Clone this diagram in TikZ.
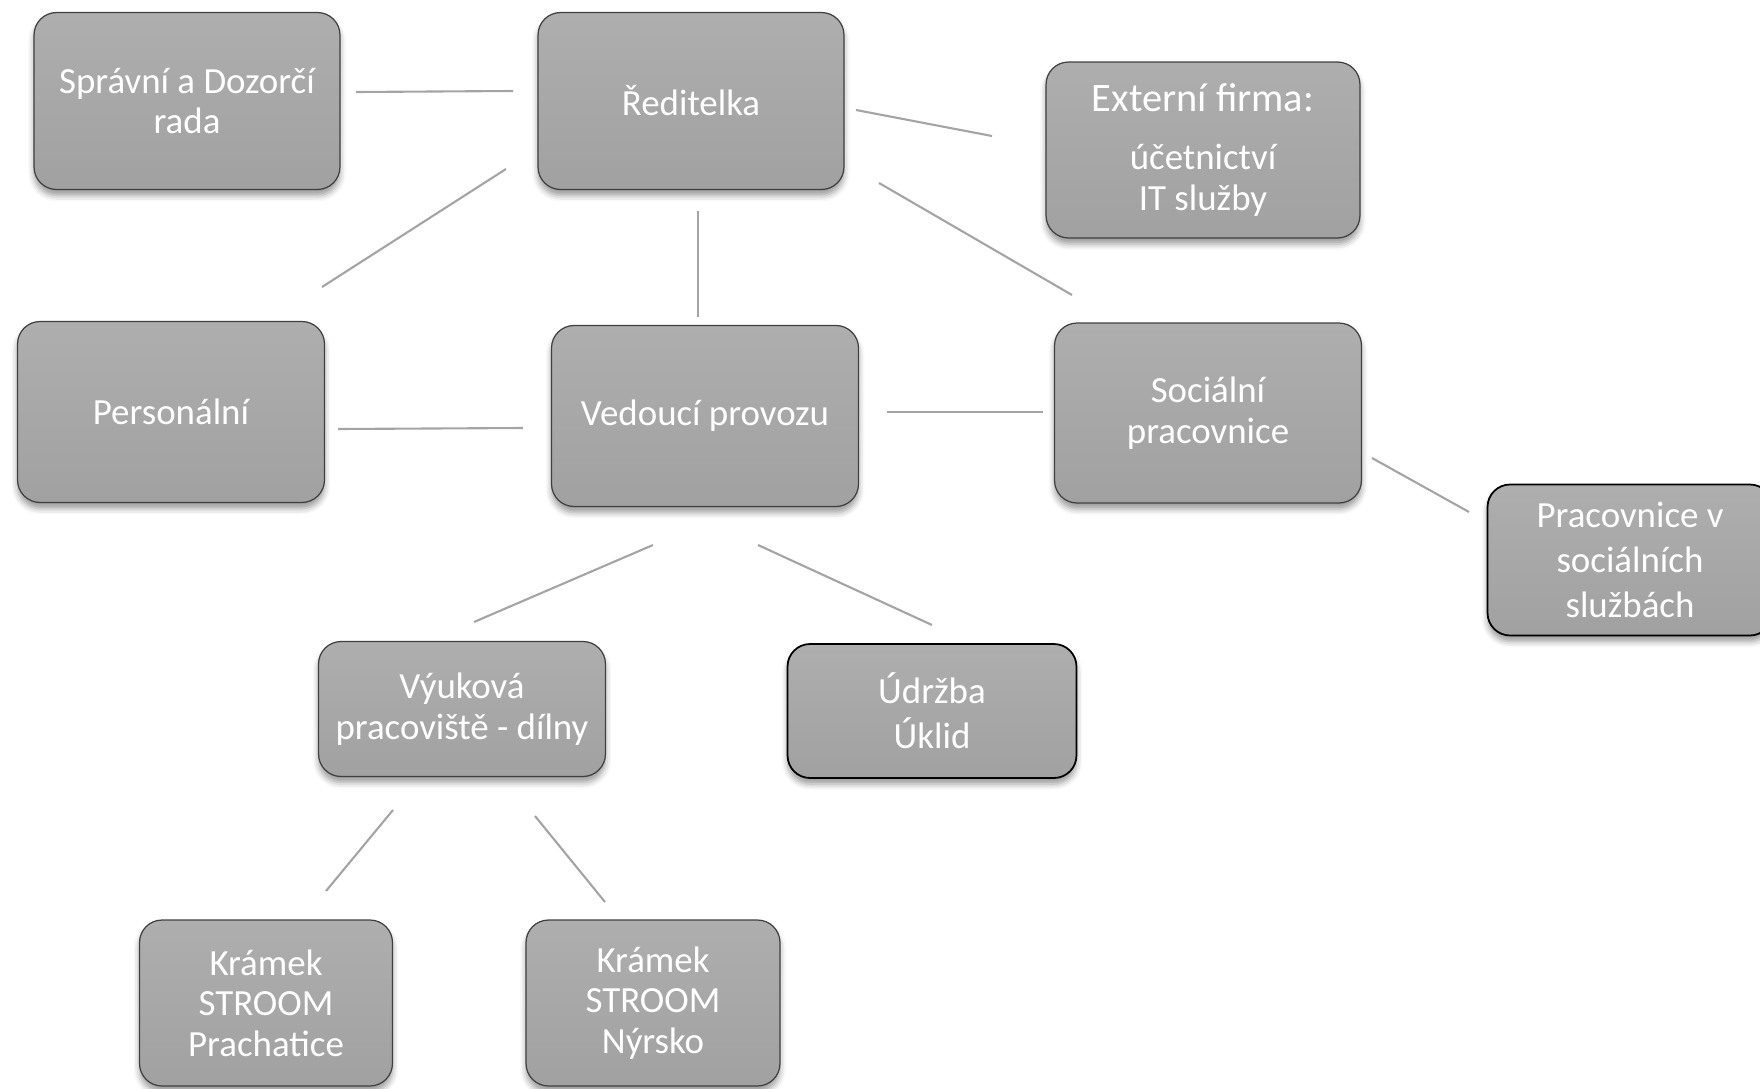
\documentclass[tikz,border=0pt]{standalone}
\usepackage{fontspec}
\setmainfont{Carlito}
\usetikzlibrary{shapes,shadows.blur,positioning}

\definecolor{boxtop}{HTML}{AEAEAE}
\definecolor{boxbottom}{HTML}{A1A1A1}
\definecolor{linkgray}{HTML}{A4A4A4}

\begin{document}
\begin{tikzpicture}[x=0.02cm, y=-0.02cm]
			\tikzstyle{Box} 	= [rectangle, rounded corners=0.45cm, draw=black!75, line width=0.7pt,
			                   top color=boxtop, bottom color=boxbottom, text=white, align=center,
			                   inner sep=0pt, font=\fontsize{21}{23}\selectfont,
			                   blur shadow={shadow xshift=0pt, shadow yshift=-0.12cm, shadow blur radius=0.12cm, shadow opacity=40}]
			\tikzstyle{Strong}	= [draw=black, line width=1pt]
			\tikzstyle{Wide}	= [font=\fontsize{21}{25.5}\selectfont]
			\tikzstyle{Link}	= [linkgray, line width=1.2pt]
			
			\useasboundingbox (0,0) rectangle (1760,1088);
			
			\node (sprava) at (187, 101) [Box, minimum width=6.12cm, minimum height=3.54cm] {Správní a Dozorčí\\rada};
			\node (reditelka) at (691, 101) [Box, minimum width=6.12cm, minimum height=3.54cm] {Ředitelka};
			\node (externi) at (1203, 150) [Box, minimum width=6.28cm, minimum height=3.52cm] {{\fontsize{23}{25}\selectfont Externí firma:}\\[0.35cm]účetnictví\\IT služby};
			\node (personal) at (171, 412) [Box, minimum width=6.14cm, minimum height=3.62cm] {Personální};
			\node (vedouci) at (705, 416) [Box, minimum width=6.14cm, minimum height=3.62cm] {Vedoucí provozu};
			\node (social) at (1208, 413) [Box, minimum width=6.14cm, minimum height=3.6cm] {Sociální\\pracovnice};
			\node (pracovnice) at (1630, 560) [Box][Strong, Wide, minimum width=5.7cm, minimum height=3.02cm] {Pracovnice v\\sociálních\\službách};
			\node (vyuka) at (462, 709) [Box, minimum width=5.74cm, minimum height=2.7cm] {Výuková\\pracoviště - dílny};
			\node (udrzba) at (932, 711) [Box][Strong, Wide, minimum width=5.78cm, minimum height=2.68cm] {Údržba\\Úklid};
			\node (kramekP) at (266, 1003) [Box, minimum width=5.06cm, minimum height=3.32cm] {Krámek\\STROOM\\Prachatice};
			\node (kramekN) at (653, 1003) [Box, minimum width=5.08cm, minimum height=3.32cm] {Krámek\\STROOM\\Nýrsko};
			
			\coordinate (sr1) at (356, 92);   \coordinate (sr2) at (513, 91);
			\coordinate (re1) at (856, 110);  \coordinate (re2) at (992, 136);
			\coordinate (rp1) at (506, 169);  \coordinate (rp2) at (322, 287);
			\coordinate (rv1) at (698, 211);  \coordinate (rv2) at (698, 317);
			\coordinate (rs1) at (879, 183);  \coordinate (rs2) at (1072, 295);
			\coordinate (pv1) at (338, 429);  \coordinate (pv2) at (523, 428);
			\coordinate (vs1) at (887, 412);  \coordinate (vs2) at (1043, 412);
			\coordinate (sp1) at (1372, 458); \coordinate (sp2) at (1469, 512);
			\coordinate (vy1) at (653, 545);  \coordinate (vy2) at (474, 622);
			\coordinate (vu1) at (758, 545);  \coordinate (vu2) at (932, 625);
			\coordinate (yk1) at (393, 810);  \coordinate (yk2) at (326, 891);
			\coordinate (yn1) at (535, 816);  \coordinate (yn2) at (605, 902);
			
			\draw [-] (sr1) to (sr2) [Link];
			\draw [-] (re1) to (re2) [Link];
			\draw [-] (rp1) to (rp2) [Link];
			\draw [-] (rv1) to (rv2) [Link];
			\draw [-] (rs1) to (rs2) [Link];
			\draw [-] (pv1) to (pv2) [Link];
			\draw [-] (vs1) to (vs2) [Link];
			\draw [-] (sp1) to (sp2) [Link];
			\draw [-] (vy1) to (vy2) [Link];
			\draw [-] (vu1) to (vu2) [Link];
			\draw [-] (yk1) to (yk2) [Link];
			\draw [-] (yn1) to (yn2) [Link];
		\end{tikzpicture}
\end{document}
